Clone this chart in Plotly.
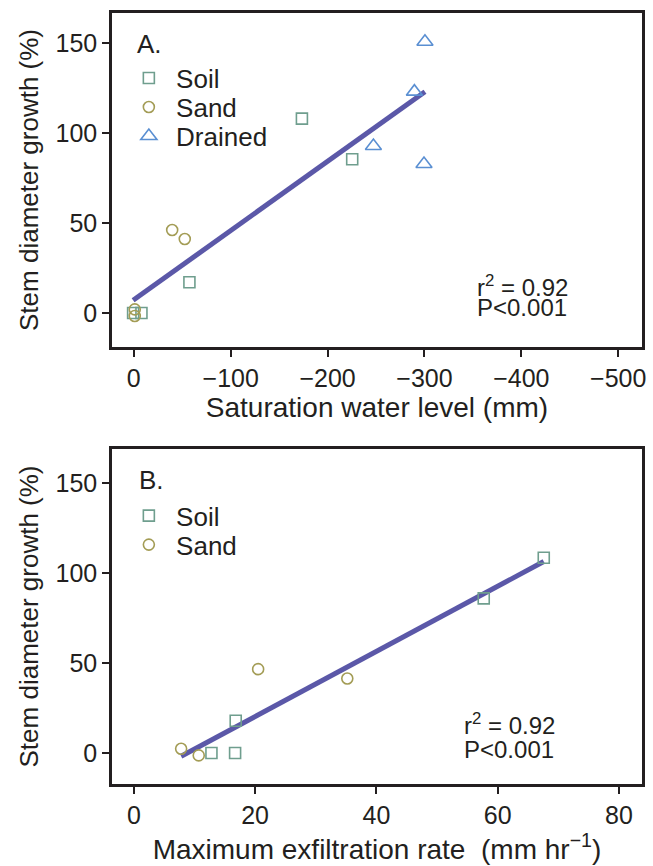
import numpy as np
import plotly.graph_objects as go

# ---------------- data ----------------
# Panel A: saturation water level (mm) vs stem diameter growth (%)
soilA_x = [0.7, -7.9, -57.4, -173.5, -225.4]
soilA_y = [0.0, 0.0, 17.1, 108.0, 85.4]
sandA_x = [-1.0, -1.0, -39.6, -52.6]
sandA_y = [2.0, -1.7, 46.1, 41.1]
drainedA_x = [-300.5, -289.6, -247.3, -299.5]
drainedA_y = [150.7, 123.0, 92.8, 82.8]

# Panel B: maximum exfiltration rate (mm/hr) vs stem diameter growth (%)
soilB_x = [67.6, 57.7, 16.8, 16.7, 12.8]
soilB_y = [108.5, 85.9, 17.9, 0.0, 0.0]
sandB_x = [20.5, 35.2, 7.8, 10.7]
sandB_y = [46.6, 41.4, 2.4, -1.3]

xticksA = [0, -100, -200, -300, -400, -500]
xticklabelsA = ["0", "\u2212100", "\u2212200", "\u2212300", "\u2212400", "\u2212500"]
xticksB = [0, 20, 40, 60, 80]
yticks = [0, 50, 100, 150]

statsText1 = "r<sup>2</sup> = 0.92"
statsText2 = "P<0.001"

# ---------------- style ----------------
FONT = "Liberation Sans, Arial, Helvetica, sans-serif"
INK = "#231f20"
C_SOIL = "#6f9e8e"
C_SAND = "#a39c55"
C_DRAIN = "#5a8fd2"
C_FIT = "#5b58a8"

fig = go.Figure()

def mk(symbol, color, size):
    return dict(symbol=symbol, size=size, color=color,
                line=dict(color=color, width=1.6))

# fit lines (least squares over all points of the panel)
xa = np.array(soilA_x + sandA_x + drainedA_x)
ya = np.array(soilA_y + sandA_y + drainedA_y)
pa = np.polyfit(xa, ya, 1)
xla = np.array([xa.max(), xa.min()])
fig.add_trace(go.Scatter(x=xla, y=np.polyval(pa, xla), mode="lines",
                         line=dict(color=C_FIT, width=5), showlegend=False,
                         xaxis="x", yaxis="y"))

xb = np.array(soilB_x + sandB_x)
yb = np.array(soilB_y + sandB_y)
pb = np.polyfit(xb, yb, 1)
xlb = np.array([xb.min(), xb.max()])
fig.add_trace(go.Scatter(x=xlb, y=np.polyval(pb, xlb), mode="lines",
                         line=dict(color=C_FIT, width=5), showlegend=False,
                         xaxis="x2", yaxis="y2"))

NB = "\u00a0"
fig.add_trace(go.Scatter(x=soilA_x, y=soilA_y, mode="markers", name=NB + "Soil",
                         marker=mk("square-open", C_SOIL, 11), xaxis="x", yaxis="y", legend="legend"))
fig.add_trace(go.Scatter(x=sandA_x, y=sandA_y, mode="markers", name=NB + "Sand",
                         marker=mk("circle-open", C_SAND, 11), xaxis="x", yaxis="y", legend="legend2"))
fig.add_trace(go.Scatter(x=drainedA_x, y=drainedA_y, mode="markers", name=NB + "Drained",
                         marker=mk("triangle-up-open", C_DRAIN, 14), xaxis="x", yaxis="y", legend="legend3"))

fig.add_trace(go.Scatter(x=soilB_x, y=soilB_y, mode="markers", name=NB + "Soil",
                         marker=mk("square-open", C_SOIL, 11), xaxis="x2", yaxis="y2", legend="legend4"))
fig.add_trace(go.Scatter(x=sandB_x, y=sandB_y, mode="markers", name=NB + "Sand",
                         marker=mk("circle-open", C_SAND, 11), xaxis="x2", yaxis="y2", legend="legend5"))

axis_common = dict(showline=True, linecolor=INK, linewidth=2.5, mirror=True,
                   ticks="outside", ticklen=7, tickwidth=2, tickcolor=INK,
                   showgrid=False, zeroline=False,
                   tickfont=dict(family=FONT, size=25, color=INK))

XT = dict(family=FONT, size=28, color=INK)
YT = dict(family=FONT, size=26, color=INK)

def leg(y):
    return dict(x=0.0318, y=y, xanchor="left", yanchor="middle",
                bgcolor="rgba(0,0,0,0)", font=dict(family=FONT, size=26, color=INK),
                itemwidth=30, borderwidth=0)

fig.update_layout(
    width=653, height=866,
    margin=dict(l=112, r=7, t=13, b=82),
    paper_bgcolor="white", plot_bgcolor="white",
    font=dict(family=FONT, size=24, color=INK),
    xaxis=dict(axis_common, domain=[0, 1], anchor="y", range=[22.5, -524.5],
               tickvals=xticksA, ticktext=xticklabelsA,
               title=dict(text="Saturation water level (mm)", standoff=4, font=XT)),
    yaxis=dict(axis_common, domain=[0.5668, 1], anchor="x", range=[-18.9, 166.7],
               tickvals=yticks,
               title=dict(text="Stem diameter growth (%)", standoff=10, font=YT)),
    xaxis2=dict(axis_common, domain=[0, 1], anchor="y2", range=[-3.6, 83.8],
                tickvals=xticksB,
                title=dict(text="Maximum exfiltration rate\u00a0 (mm hr<sup>\u22121</sup>)", standoff=6, font=XT)),
    yaxis2=dict(axis_common, domain=[0, 0.4345], anchor="x2", range=[-17.2, 168.9],
                tickvals=yticks,
                title=dict(text="Stem diameter growth (%)", standoff=10, font=YT)),
    legend=leg(0.9155),
    legend2=leg(0.8779),
    legend3=leg(0.8403),
    legend4=leg(0.3480),
    legend5=leg(0.3104),
)

ann_font = dict(family=FONT, size=24, color=INK)
lab_font = dict(family=FONT, size=26, color=INK)
for xr, yr, lx, sx, s1y, s2y, lab in [("x domain", "y domain", 0.043, 0.685, 0.183, 0.117, "A."),
                                      ("x2 domain", "y2 domain", 0.047, 0.661, 0.179, 0.104, "B.")]:
    fig.add_annotation(x=lx, y=0.908, xref=xr, yref=yr, text=lab, showarrow=False,
                       xanchor="left", yanchor="middle", font=lab_font)
    fig.add_annotation(x=sx, y=s1y, xref=xr, yref=yr, text=statsText1, showarrow=False,
                       xanchor="left", yanchor="middle", font=ann_font)
    fig.add_annotation(x=sx, y=s2y, xref=xr, yref=yr, text=statsText2, showarrow=False,
                       xanchor="left", yanchor="middle", font=ann_font)

fig.write_html("out.html", config={"displayModeBar": False},
               post_script="document.body.style.margin='0';document.body.style.overflow='hidden';")
